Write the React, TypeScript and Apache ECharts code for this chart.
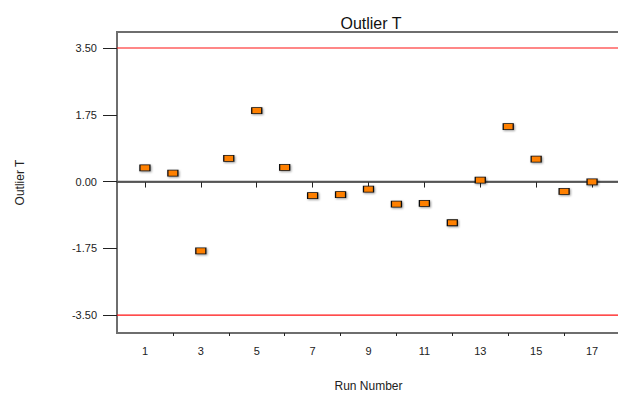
import React, { useEffect, useRef } from "react";
import * as echarts from "echarts";

const runNumbers = [1, 2, 3, 4, 5, 6, 7, 8, 9, 10, 11, 12, 13, 14, 15, 16, 17];
const outlierT = [0.36, 0.22, -1.82, 0.61, 1.86, 0.37, -0.37, -0.34, -0.2, -0.59, -0.57, -1.08, 0.04, 1.44, 0.59, -0.26, -0.01];
const yTicks = [-3.5, -1.75, 0, 1.75, 3.5];
const xMajorTicks = [1, 3, 5, 7, 9, 11, 13, 15, 17];
const xMinorTicks = [2, 4, 6, 8, 10, 12, 14, 16];
const xRange = [0, 18];
const yRange = [-3.97, 3.92];
const limits = [3.5, -3.5];
const centerLine = [0];

const FONT = "Liberation Sans, Arial, sans-serif";

export default function App() {
  const ref = useRef<HTMLDivElement>(null);
  useEffect(() => {
    if (!ref.current) return;
    document.body.style.margin = "0";
    document.body.style.overflow = "hidden";
    const chart = echarts.init(ref.current, undefined, { renderer: "svg" });
    const hLine = (v: number, color: string, width: number, z: number) => ({
      type: "line",
      data: xRange.map((x) => [x, v]),
      symbol: "none",
      silent: true,
      z,
      lineStyle: { color, width, type: "solid", opacity: 1 },
    });
    chart.setOption({
      animation: false,
      textStyle: { fontFamily: FONT },
      title: {
        text: "Outlier T",
        left: 366,
        top: 10,
        textAlign: "center",
        textStyle: { fontFamily: FONT, fontSize: 16, fontWeight: "normal", color: "#111" },
      },
      grid: {
        left: 117,
        top: 32,
        right: -2,
        bottom: 61,
        containLabel: false,
        outerBoundsMode: "none",
        show: true,
        borderColor: "#6e6e6e",
        borderWidth: 2,
        backgroundColor: "transparent",
      },
      xAxis: [
        {
          type: "value",
          min: xRange[0],
          max: xRange[1],
          name: "Run Number",
          nameLocation: "middle",
          nameGap: 47,
          nameTextStyle: { fontFamily: FONT, fontSize: 12, color: "#222" },
          splitLine: { show: false },
          axisLine: { show: true, lineStyle: { color: "#333", width: 1.5 } },
          axisTick: { show: true, length: 6, customValues: xMajorTicks, lineStyle: { color: "#222" } },
          axisLabel: {
            customValues: xMajorTicks,
            fontFamily: FONT,
            fontSize: 11,
            color: "#222",
            margin: 12,
          },
        },
        {
          type: "value",
          min: xRange[0],
          max: xRange[1],
          position: "bottom",
          offset: 0,
          splitLine: { show: false },
          axisLine: { show: false },
          axisTick: { show: true, length: 3, customValues: xMinorTicks, lineStyle: { color: "#222" } },
          axisLabel: { show: false },
        },
      ],
      yAxis: {
        type: "value",
        min: yRange[0],
        max: yRange[1],
        name: "Outlier T",
        nameLocation: "middle",
        nameGap: 91,
        nameRotate: 90,
        nameTextStyle: { fontFamily: FONT, fontSize: 12, color: "#222" },
        splitLine: { show: false },
        axisLine: { show: true, lineStyle: { color: "#6e6e6e", width: 2 } },
        axisTick: { show: true, length: 14, customValues: yTicks, lineStyle: { color: "#222" } },
        axisLabel: {
          customValues: yTicks,
          formatter: (v: number) => v.toFixed(2),
          fontFamily: FONT,
          fontSize: 11,
          color: "#222",
          margin: 20,
        },
      },
      series: [
        ...limits.map((v) => hLine(v, "#ff1010", 1.2, 2)),
        ...centerLine.map((v) => hLine(v, "#555", 1.5, 2)),
        {
          type: "scatter",
          data: runNumbers.map((r, i) => [r, outlierT[i]]),
          symbol: "rect",
          symbolSize: [10, 6],
          z: 5,
          itemStyle: {
            color: "#ff8000",
            borderColor: "#111",
            borderWidth: 1,
            opacity: 1,
            shadowBlur: 2,
            shadowColor: "rgba(0,0,0,0.4)",
            shadowOffsetX: 1,
            shadowOffsetY: 1,
          },
        },
      ],
    });
    return () => chart.dispose();
  }, []);
  return <div ref={ref} style={{ width: 618, height: 394, background: "#fff" }} />;
}
